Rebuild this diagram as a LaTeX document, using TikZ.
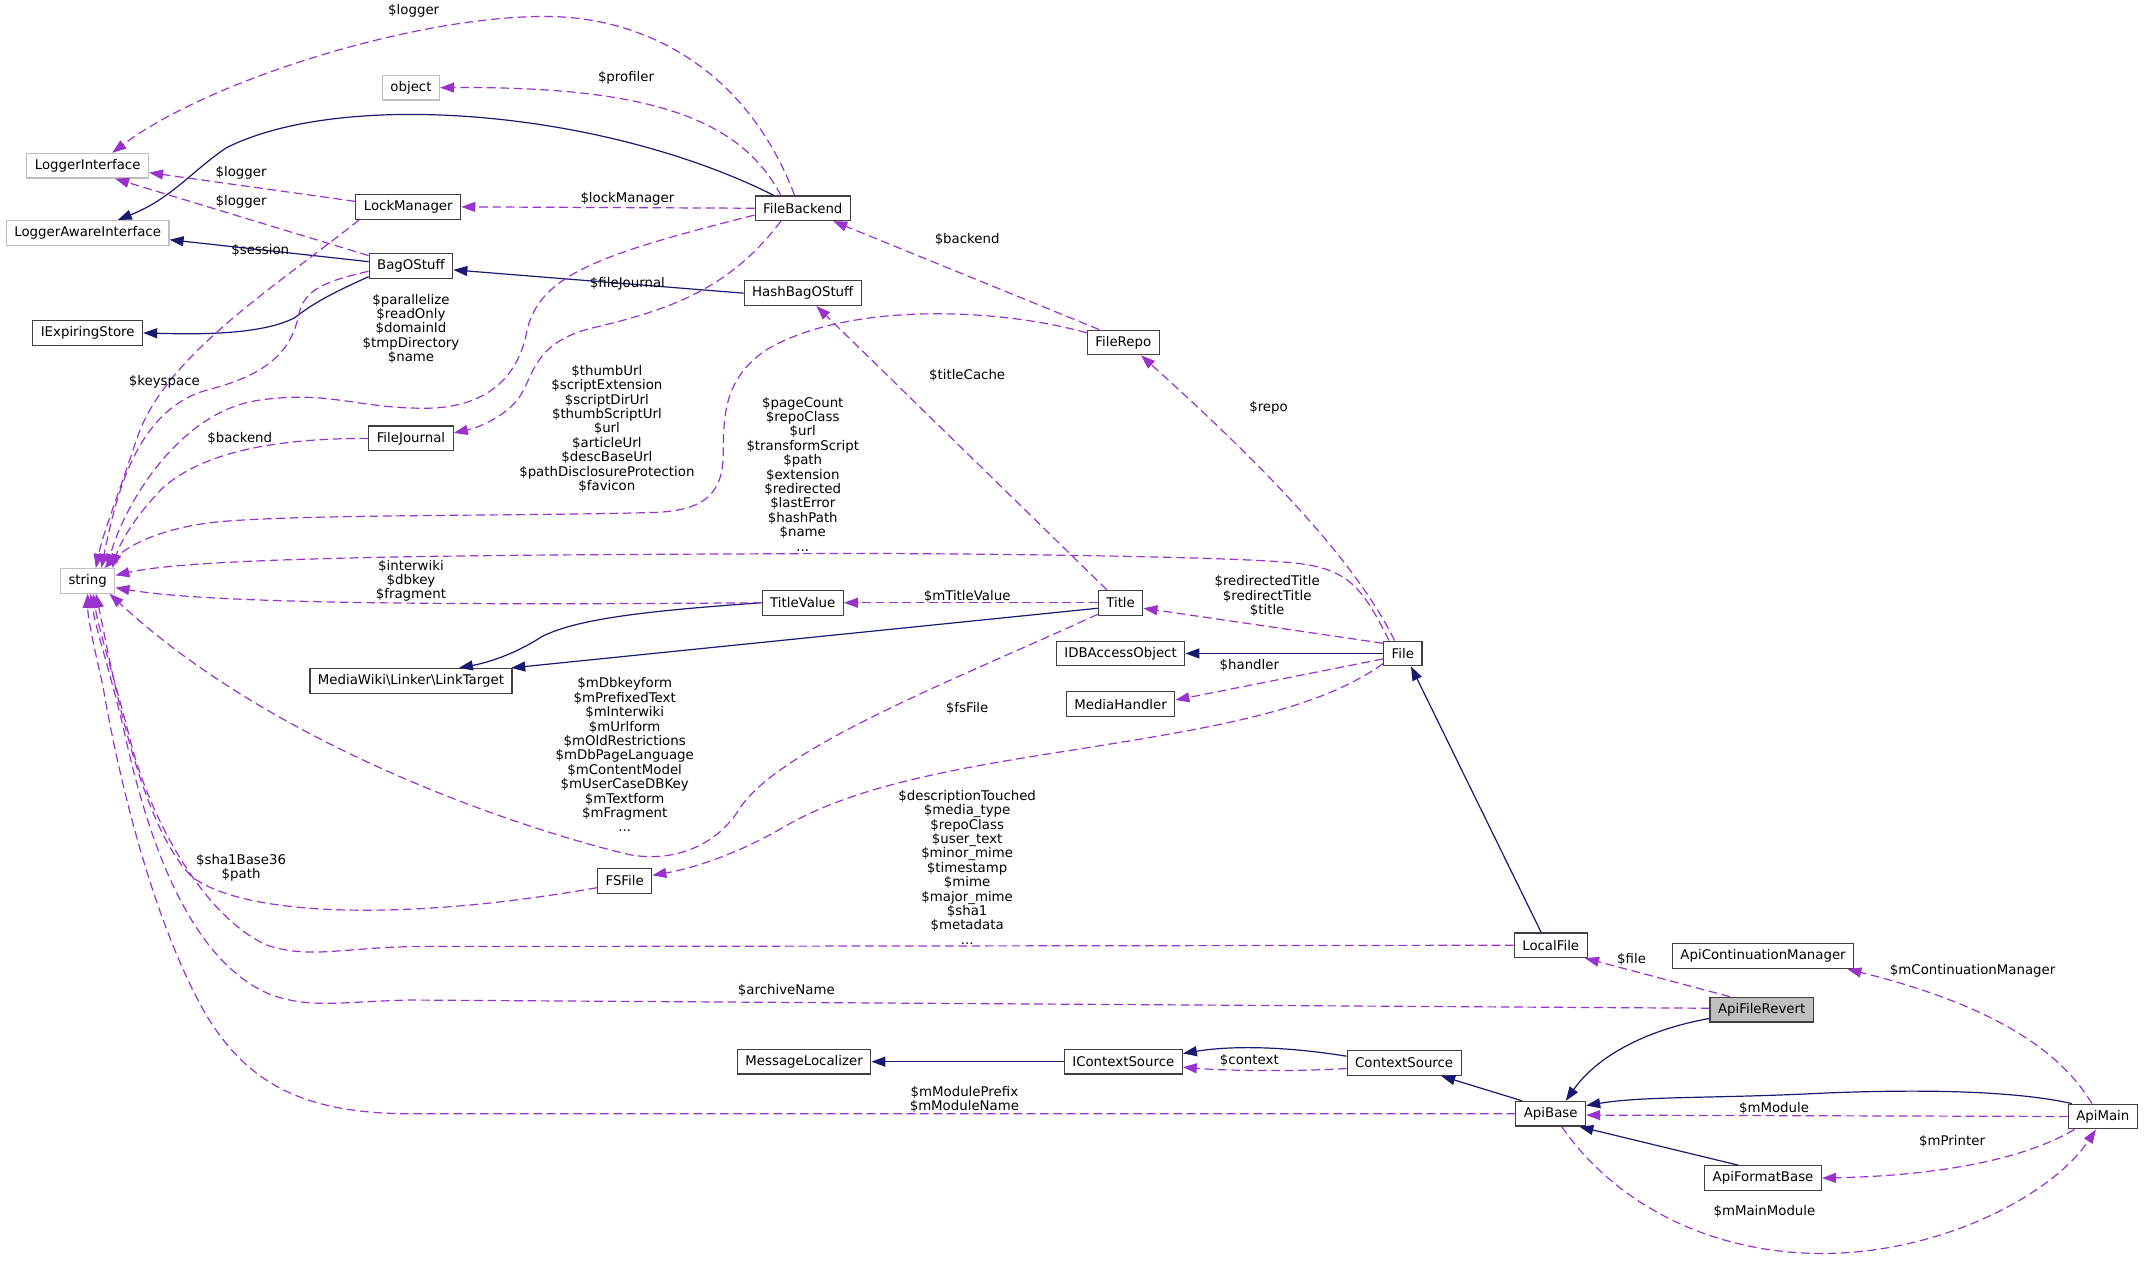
\documentclass[tikz,border=0pt]{standalone}
\usepackage{fontspec}
\setmainfont{DejaVu Sans}
\usetikzlibrary{arrows.meta,calc}
\definecolor{inh}{HTML}{191970}
\definecolor{usg}{HTML}{9A32CD}
\definecolor{grayb}{HTML}{BFBFBF}
\definecolor{boxb}{HTML}{404040}
\begin{document}
\begin{tikzpicture}[x=1.0275pt,y=-1.0275pt,
  cls/.style={draw=boxb, line width=0.9pt, fill=white, inner xsep=6pt, inner ysep=0pt, minimum height=18.5pt, font=\fontsize{10pt}{11.1pt}\selectfont},
  ext/.style={cls, draw=grayb},
  cur/.style={cls, fill=grayb},
  inhe/.style={draw=inh, line width=0.9pt, -{Triangle[length=10.5pt,width=7.5pt]}},
  usee/.style={draw=usg, line width=0.9pt, dash pattern=on 6.5pt off 3.5pt, -{Triangle[length=10.5pt,width=7.5pt]}},
  lbl/.style={font=\fontsize{10pt}{10.8pt}\selectfont, align=center, inner sep=0pt}]
\useasboundingbox (0,0) rectangle (1568,920);

% nodes
\node[ext] (li) at (64,121) {LoggerInterface};
\node[ext] (obj) at (300,64) {object};
\node[ext] (law) at (64,170) {LoggerAwareInterface};
\node[cls] (ies) at (64,243) {IExpiringStore};
\node[ext] (str) at (64,424) {string};
\node[cls] (lm) at (298,151) {LockManager};
\node[cls] (bag) at (300,194) {BagOStuff};
\node[cls] (fj) at (300,320) {FileJournal};
\node[cls] (fb) at (586,152) {FileBackend};
\node[cls] (hbs) at (586,214) {HashBagOStuff};
\node[cls] (fr) at (820,250) {FileRepo};
\node[cls] (tv) at (586,440) {TitleValue};
\node[cls] (lt) at (300,497) {MediaWiki\textbackslash Linker\textbackslash LinkTarget};
\node[cls] (title) at (818,440) {Title};
\node[cls] (idb) at (818,477) {IDBAccessObject};
\node[cls] (mh) at (818,514) {MediaHandler};
\node[cls] (file) at (1024,477) {File};
\node[cls] (fsf) at (456,643) {FSFile};
\node[cls] (lf) at (1132,690) {LocalFile};
\node[cls] (acm) at (1287,698) {ApiContinuationManager};
\node[cur] (afr) at (1286,737) {ApiFileRevert};
\node[cls] (ml) at (587,775) {MessageLocalizer};
\node[cls] (ics) at (820,775) {IContextSource};
\node[cls] (cs) at (1025,776) {ContextSource};
\node[cls] (ab) at (1132,813) {ApiBase};
\node[cls] (am) at (1535,815) {ApiMain};
\node[cls] (afb) at (1287,860) {ApiFormatBase};

% inheritance
\draw[inhe] ($(fb.north west)+(14,0)$) .. controls (440,80) and (250,65) .. (165,108) .. controls (140,125) and (125,145) .. ($(law.north)+(22,0)$);
\draw[inhe] ($(bag.west)+(0,-3)$) -- ($(law.east)+(0,5)$);
\draw[inhe] ($(bag.west)+(0,8)$) .. controls (240,215) and (228,222) .. (215,232) .. controls (190,245) and (140,244) .. (ies.east);
\draw[inhe] (hbs.west) -- ($(bag.east)+(0,3)$);
\draw[inhe] (tv.west) .. controls (470,446) and (420,452) .. (395,465) .. controls (380,475) and (360,483) .. ($(lt.north)+(35,0)$);
\draw[inhe] ($(title.west)+(0,4)$) -- ($(lt.north east)+(-1,0)$);
\draw[inhe] (file.west) -- (idb.east);
\draw[inhe] ($(lf.north)+(-7,0)$) -- ($(file.south)+(6,0)$);
\draw[inhe] ($(afr.south west)+(0,-3)$) .. controls (1200,752) and (1165,772) .. ($(ab.north)+(11,0)$);
\draw[inhe] ($(cs.west)+(0,-5)$) .. controls (940,764) and (900,763) .. ($(ics.east)+(0,-6)$);
\draw[inhe] (ics.west) -- (ml.east);
\draw[inhe] ($(ab.north west)+(5,0)$) -- ($(cs.south east)+(-15,0)$);
\draw[inhe] ($(am.north west)+(3,0)$) .. controls (1470,796) and (1400,795) .. (1330,798) .. controls (1250,802) and (1200,800) .. ($(ab.east)+(0,-6)$);
\draw[inhe] ($(afb.north west)+(25,0)$) -- ($(ab.south east)+(-5,0)$);

% usage
\draw[usee] ($(fb.north)+(-6,0)$) .. controls (545,50) and (470,12) .. (398,12) .. controls (300,12) and (150,60) .. ($(li.north)+(18,0)$);
\draw[usee] ($(fb.north)+(-16,0)$) .. controls (540,85) and (470,63) .. (obj.east);
\draw[usee] ($(lm.west)+(0,-4)$) -- ($(li.east)+(0,5)$);
\draw[usee] ($(bag.north west)+(0,2)$) -- ($(li.south)+(20,0)$);
\draw[usee] (fb.west) -- (lm.east);
\draw[usee] ($(lm.south west)+(3,0)$) .. controls (200,210) and (120,260) .. (100,320) .. controls (85,365) and (75,390) .. ($(str.north)+(6,0)$);
\draw[usee] ($(bag.west)+(0,4)$) .. controls (240,205) and (222,210) .. (218,230) .. controls (212,260) and (190,275) .. (150,285) .. controls (100,300) and (85,360) .. ($(str.north)+(10,0)$);
\draw[usee] ($(fb.west)+(0,5)$) .. controls (440,185) and (395,200) .. (385,240) .. controls (378,280) and (350,298) .. (310,298) .. controls (260,298) and (240,285) .. (190,292) .. controls (130,300) and (90,370) .. ($(str.north)+(14,0)$);
\draw[usee] ($(fb.south)+(-16,0)$) .. controls (530,215) and (480,228) .. (430,240) .. controls (385,252) and (390,280) .. (375,295) .. controls (365,305) and (350,312) .. ($(fj.east)+(0,-4)$);
\draw[usee] (fj.west) .. controls (200,320) and (150,330) .. (120,355) .. controls (100,375) and (88,395) .. ($(str.north)+(18,0)$);
\draw[usee] ($(fr.north west)+(9,0)$) -- ($(fb.south east)+(-13,0)$);
\draw[usee] ($(fr.west)+(0,-7)$) .. controls (730,225) and (620,220) .. (560,255) .. controls (530,275) and (528,300) .. (528,330) .. controls (528,360) and (515,372) .. (480,374) .. controls (380,377) and (200,375) .. (150,382) .. controls (110,388) and (92,400) .. ($(str.north east)+(-8,0)$);
\draw[usee] ($(file.north)+(-6,0)$) .. controls (985,400) and (900,320) .. ($(fr.south)+(13,0)$);
\draw[usee] ($(file.north)+(-10,0)$) .. controls (995,430) and (985,415) .. (945,411) .. controls (900,406) and (700,404) .. (620,404) .. controls (400,405) and (150,405) .. ($(str.east)+(0,-4)$);
\draw[usee] (tv.west) .. controls (300,442) and (150,440) .. ($(str.east)+(0,5)$);
\draw[usee] (title.west) -- (tv.east);
\draw[usee] ($(title.north)+(-10,0)$) -- ($(hbs.south)+(10,0)$);
\draw[usee] ($(title.south west)+(0,-1)$) .. controls (700,495) and (570,545) .. (540,590) .. controls (525,615) and (495,630) .. (460,624) .. controls (380,605) and (200,545) .. ($(str.south)+(16,0)$);
\draw[usee] ($(file.north west)+(0,2)$) -- ($(title.east)+(0,4)$);
\draw[usee] ($(file.west)+(0,4)$) -- ($(mh.east)+(0,-3)$);
\draw[usee] ($(file.south west)+(0,-2)$) .. controls (960,520) and (880,532) .. (780,548) .. controls (690,562) and (620,575) .. (570,605) .. controls (540,622) and (510,633) .. ($(fsf.east)+(0,-4)$);
\draw[usee] ($(fsf.west)+(0,5)$) .. controls (300,672) and (180,670) .. (140,640) .. controls (100,600) and (80,480) .. ($(str.south)+(6,0)$);
\draw[usee] (lf.west) -- (300,691) .. controls (250,692) and (225,700) .. (195,690) .. controls (150,670) and (110,600) .. (95,540) .. controls (85,500) and (72,460) .. ($(str.south)+(4,0)$);
\draw[usee] ($(afr.west)+(0,-1)$) -- (300,730) .. controls (250,731) and (225,737) .. (195,725) .. controls (140,700) and (110,620) .. (92,540) .. controls (82,495) and (70,460) .. ($(str.south)+(2,0)$);
\draw[usee] (ab.west) -- (300,813) .. controls (220,813) and (180,790) .. (150,740) .. controls (110,670) and (85,560) .. (75,500) .. controls (68,470) and (64,450) .. (str.south);
\draw[usee] ($(afr.north west)+(15,0)$) -- ($(lf.south east)+(-2,0)$);
\draw[usee] ($(cs.west)+(0,4)$) .. controls (950,782) and (900,782) .. ($(ics.east)+(0,4)$);
\draw[usee] (am.west) -- ($(ab.east)+(0,1)$);
\draw[usee] ($(am.south west)+(5,0)$) .. controls (1480,845) and (1420,858) .. (afb.east);
\draw[usee] ($(ab.south)+(8,0)$) .. controls (1180,880) and (1250,915) .. (1330,915) .. controls (1420,915) and (1500,870) .. ($(am.south)+(-5,0)$);
\draw[usee] ($(am.north)+(-8,0)$) .. controls (1500,760) and (1440,730) .. ($(acm.south east)+(-5,0)$);

% labels
\node[lbl] (l1) at (302,8) {\$logger};
\node[lbl] (l2) at (457,57) {\$profiler};
\node[lbl] (l3) at (176,126) {\$logger};
\node[lbl] (l4) at (176,147) {\$logger};
\node[lbl] (l5) at (458,145) {\$lockManager};
\node[lbl] (l6) at (190,183) {\$session};
\node[lbl] (l7) at (458,207) {\$fileJournal};
\node[lbl] (l8) at (120,279) {\$keyspace};
\node[lbl] (l9) at (300,240) {\$parallelize\\\$readOnly\\\$domainId\\\$tmpDirectory\\\$name};
\node[lbl] (l10) at (175,320) {\$backend};
\node[lbl] (l11) at (706,175) {\$backend};
\node[lbl] (l12) at (706,274) {\$titleCache};
\node[lbl] (l13) at (926,298) {\$repo};
\node[lbl] (l14) at (443,313) {\$thumbUrl\\\$scriptExtension\\\$scriptDirUrl\\\$thumbScriptUrl\\\$url\\\$articleUrl\\\$descBaseUrl\\\$pathDisclosureProtection\\\$favicon};
\node[lbl] (l15) at (586,346) {\$pageCount\\\$repoClass\\\$url\\\$transformScript\\\$path\\\$extension\\\$redirected\\\$lastError\\\$hashPath\\\$name\\...};
\node[lbl] (l16) at (300,424) {\$interwiki\\\$dbkey\\\$fragment};
\node[lbl] (l17) at (706,435) {\$mTitleValue};
\node[lbl] (l18) at (925,435) {\$redirectedTitle\\\$redirectTitle\\\$title};
\node[lbl] (l19) at (912,486) {\$handler};
\node[lbl] (l20) at (456,551) {\$mDbkeyform\\\$mPrefixedText\\\$mInterwiki\\\$mUrlform\\\$mOldRestrictions\\\$mDbPageLanguage\\\$mContentModel\\\$mUserCaseDBKey\\\$mTextform\\\$mFragment\\...};
\node[lbl] (l21) at (706,517) {\$fsFile};
\node[lbl] (l22) at (706,633) {\$descriptionTouched\\\$media\_type\\\$repoClass\\\$user\_text\\\$minor\_mime\\\$timestamp\\\$mime\\\$major\_mime\\\$sha1\\\$metadata\\...};
\node[lbl] (l23) at (176,633.5) {\$sha1Base36\\\$path};
\node[lbl] (l24) at (1191,700) {\$file};
\node[lbl] (l25) at (1440,709) {\$mContinuationManager};
\node[lbl] (l26) at (574,723) {\$archiveName};
\node[lbl] (l27) at (912,774) {\$context};
\node[lbl] (l28) at (704,802.5) {\$mModulePrefix\\\$mModuleName};
\node[lbl] (l29) at (1295,809) {\$mModule};
\node[lbl] (l30) at (1425,833) {\$mPrinter};
\node[lbl] (l31) at (1288,884) {\$mMainModule};
\end{tikzpicture}
\end{document}
